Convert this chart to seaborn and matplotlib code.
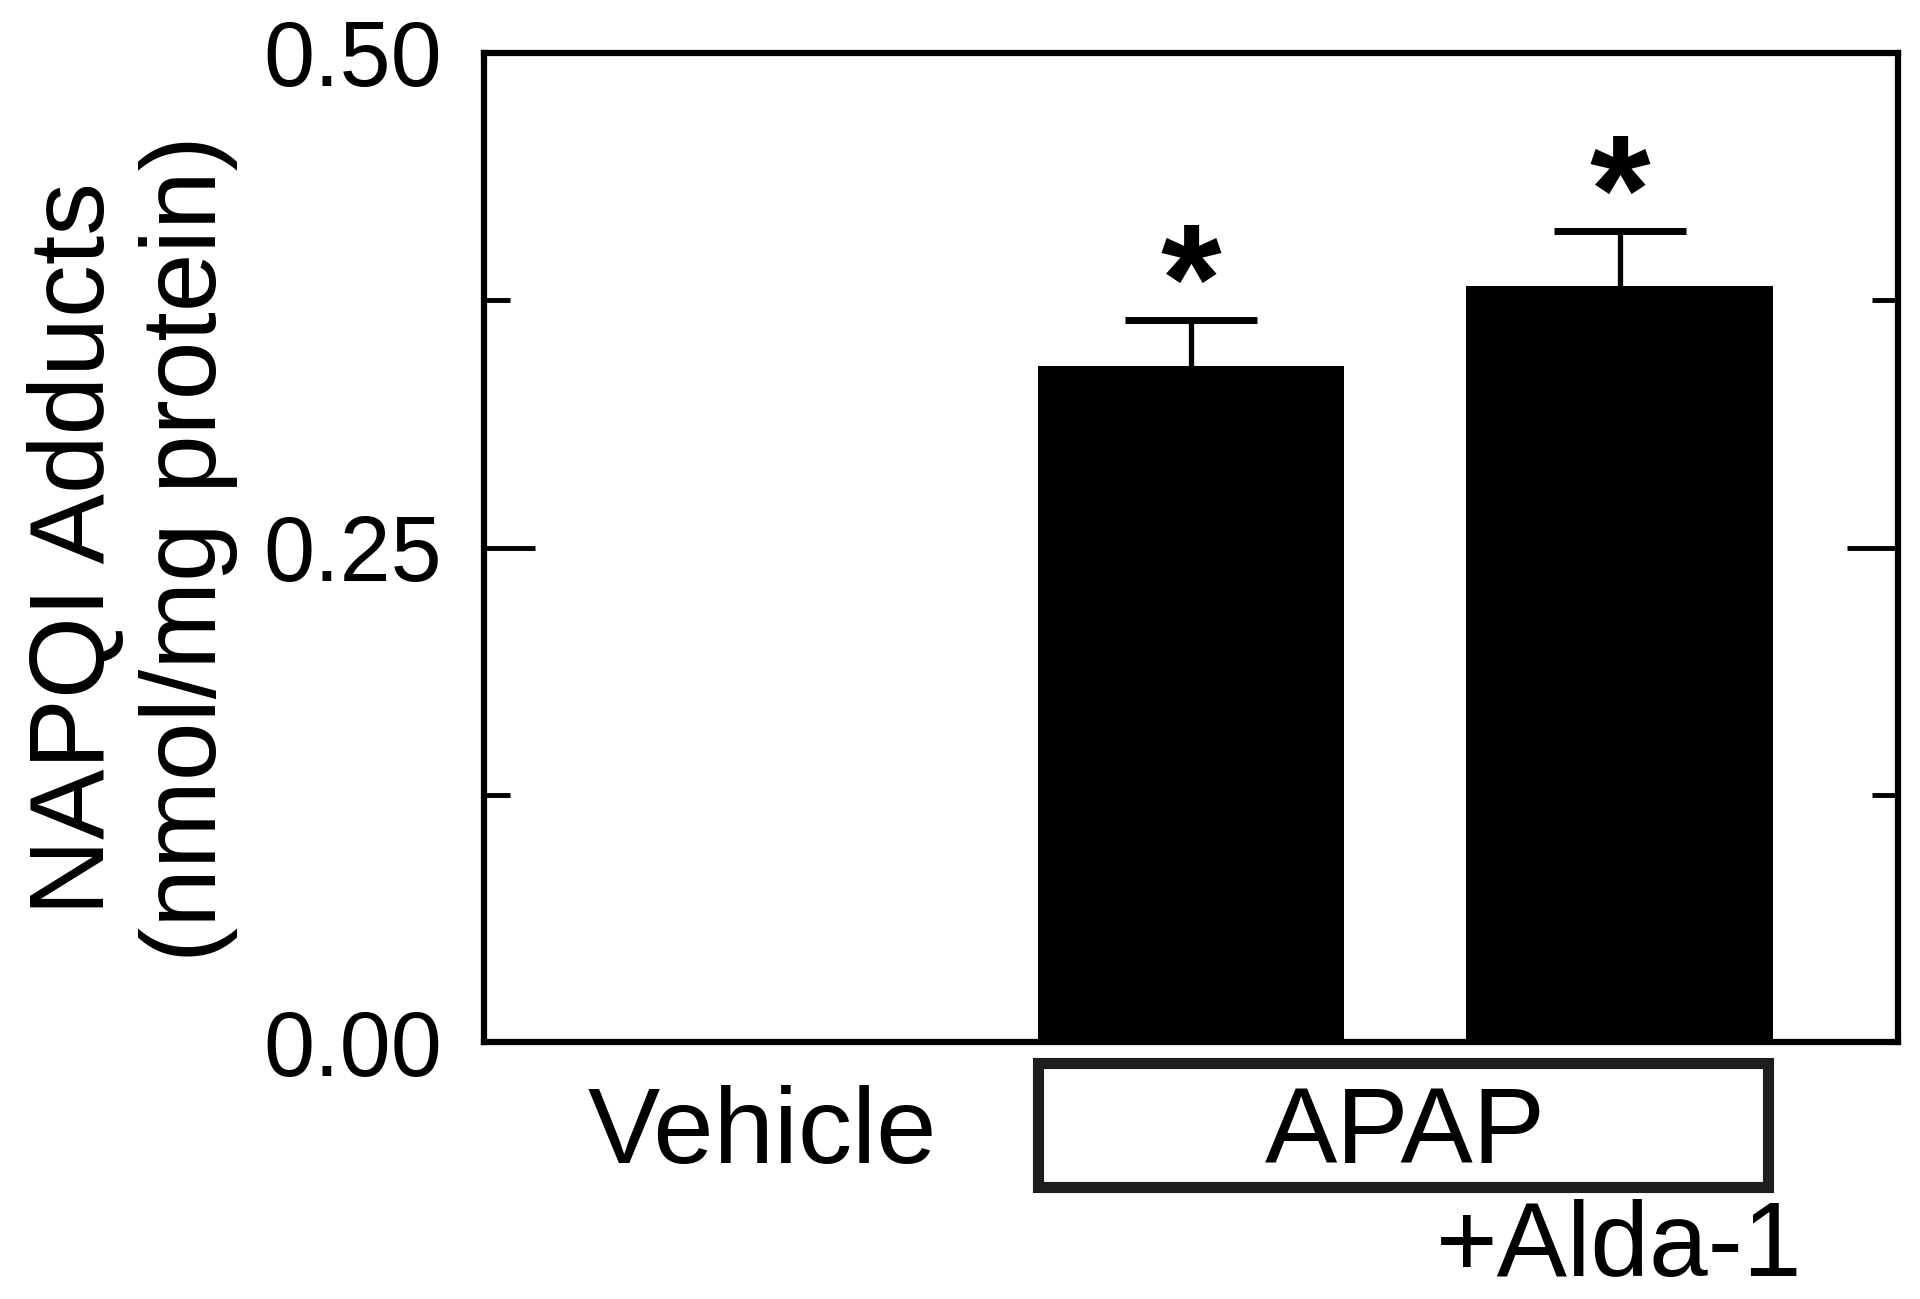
import matplotlib
matplotlib.use("Agg")
import matplotlib.pyplot as plt
import matplotlib.transforms as mtransforms
from matplotlib.patches import Rectangle
from matplotlib.ticker import MultipleLocator
import seaborn as sns
import pandas as pd
import numpy as np

# data
groups = ["Vehicle", "APAP", "APAP+Alda-1"]
adducts = [0.0, 0.342, 0.382]
sem = [0.0, 0.023, 0.028]
signif = ["", "*", "*"]

sns.set_theme(style="white")
plt.rcParams["font.family"] = ["Liberation Sans", "DejaVu Sans"]
plt.rcParams["text.color"] = "black"
plt.rcParams["axes.labelcolor"] = "black"
plt.rcParams["xtick.color"] = "black"
plt.rcParams["ytick.color"] = "black"

df = pd.DataFrame({"group": groups, "value": adducts})

fig = plt.figure(figsize=(19.2, 12.99), dpi=100)
ax = fig.add_axes([0.2521, 0.1978, 0.7365, 0.7614])

sns.barplot(data=df, x="group", y="value", color="black", width=0.715,
            saturation=1, errorbar=None, linewidth=0, ax=ax)

# one-sided (upward) error bars: stem + top cap only
xpos = np.arange(len(groups))
top = np.array(adducts) + np.array(sem)
has_err = np.array(sem) > 0
ax.vlines(xpos[has_err], np.array(adducts)[has_err], top[has_err],
          color="black", linewidth=3.8, zorder=3)
ax.hlines(top[has_err], xpos[has_err] - 0.154, xpos[has_err] + 0.154,
          color="black", linewidth=5, zorder=3)

# asterisks
for i, (v, e, s) in enumerate(zip(adducts, sem, signif)):
    if s:
        ax.text(i, v + e - 0.022, s, ha="center", va="bottom",
                fontsize=112, fontweight="bold", color="black")

ax.set_xlim(-0.65, 2.65)
ax.set_ylim(0, 0.5)
ax.yaxis.set_major_locator(MultipleLocator(0.25))
ax.yaxis.set_minor_locator(MultipleLocator(0.125))
ax.set_yticklabels([f"{t:.2f}" for t in ax.get_yticks()])
ax.tick_params(axis="y", which="major", direction="in", length=37, width=3.5,
               labelsize=66, pad=30, left=True, right=True)
ax.tick_params(axis="y", which="minor", direction="in", length=19, width=3.5,
               left=True, right=True)
ax.tick_params(axis="x", length=0, labelbottom=False)
ax.set_xlabel("")
ax.set_ylabel("")

for sp in ax.spines.values():
    sp.set_visible(True)
    sp.set_color("black")
    sp.set_linewidth(4.5)

# x labels and the APAP box under the axis
trans = mtransforms.blended_transform_factory(ax.transData, ax.transAxes)
ax.text(0, -0.122, groups[0], transform=trans, ha="center", va="baseline",
        fontsize=78)
ax.text(1.5, -0.122, "APAP", transform=trans, ha="center", va="baseline",
        fontsize=78)
ax.text(2, -0.237, "+Alda-1", transform=trans, ha="center", va="baseline",
        fontsize=76)
box = Rectangle((0.643, -0.147), 1.703, 0.126,
                transform=trans, fill=False, edgecolor="#1e1e1e",
                linewidth=8, clip_on=False)
ax.add_patch(box)

fig.text(0.069, 0.578, "NAPQI Adducts\n(nmol/mg protein)", rotation=90,
         ha="center", va="center", multialignment="center", fontsize=76,
         linespacing=1.18)

fig.savefig("out.png", dpi=100, facecolor="white")
